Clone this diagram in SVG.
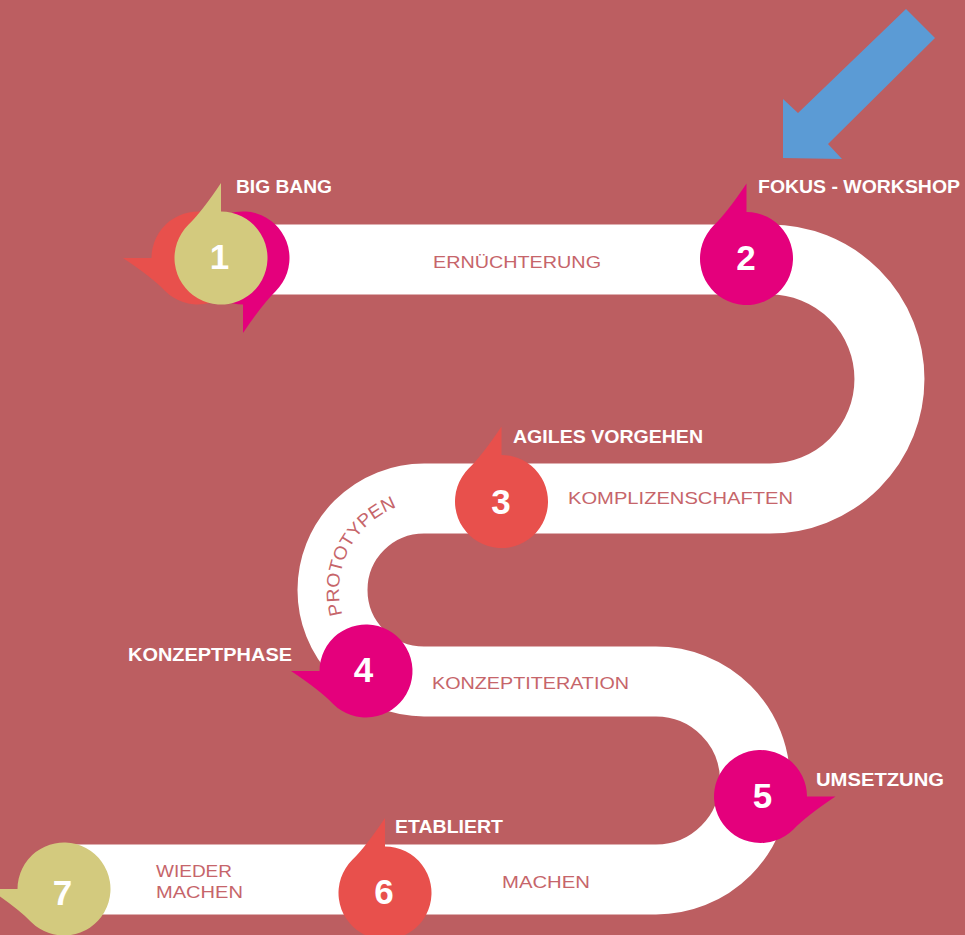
<svg xmlns="http://www.w3.org/2000/svg" width="965" height="935" viewBox="0 0 965 935">
<style>
.lbl{font-family:"Liberation Sans",Arial,sans-serif;font-weight:700;font-size:18px;fill:#ffffff}
.num{font-family:"Liberation Sans",Arial,sans-serif;font-weight:700;font-size:35px;fill:#ffffff;text-anchor:middle}
.plb{font-family:"Liberation Sans",Arial,sans-serif;font-weight:400;font-size:17px;fill:#C6656A}
.mag{fill:#E4007C}
.cor{fill:#E8504C}
.oli{fill:#D3CA7E}
</style>
<defs>
<path id="bub" d="M0,-75 L0,-46.5 A46.5,46.5 0 1 1 -32.88,-32.88 Q-19,-46.5 0,-75 Z"/>
<path id="protoArc" d="M342.5,614.5 A88,88 0 0 1 424,502"/>
</defs>
<rect x="0" y="0" width="965" height="935" fill="#BC5E61"/>
<g id="connectors">
<path d="M250,259.5 H770 A119.5,119.5 0 0 1 770,498.5 H424 A91.5,91.5 0 0 0 424,681.5 H656 A99,99 0 0 1 656,879.5 H60" fill="none" stroke="#ffffff" stroke-width="70"/>
<polygon points="906,9 935,38 828,144 842,159 783,158 783,99 798,113" fill="#5B9BD5"/>
</g>
<g id="path-labels">
<text class="plb" x="433" y="268" textLength="168" lengthAdjust="spacingAndGlyphs">ERNÜCHTERUNG</text>
<text class="plb" x="568" y="504" textLength="225" lengthAdjust="spacingAndGlyphs">KOMPLIZENSCHAFTEN</text>
<text class="plb" style="font-size:18px"><textPath href="#protoArc" textLength="132" lengthAdjust="spacingAndGlyphs">PROTOTYPEN</textPath></text>
<text class="plb" x="432" y="689" textLength="197" lengthAdjust="spacingAndGlyphs">KONZEPTITERATION</text>
<text class="plb" x="502" y="888" textLength="88" lengthAdjust="spacingAndGlyphs">MACHEN</text>
<text class="plb" x="156" y="877" textLength="76" lengthAdjust="spacingAndGlyphs">WIEDER</text>
<text class="plb" x="156" y="898" textLength="87" lengthAdjust="spacingAndGlyphs">MACHEN</text>
</g>
<g id="node1">
<use href="#bub" class="cor" transform="translate(198,258) rotate(-90)"/>
<use href="#bub" class="mag" transform="translate(243,258) rotate(180)"/>
<use href="#bub" class="oli" transform="translate(221,258)"/>
<text class="num" x="219.5" y="269">1</text>
<text class="lbl" x="236" y="193" textLength="96" lengthAdjust="spacingAndGlyphs">BIG BANG</text>
</g>
<g id="node2">
<use href="#bub" class="mag" transform="translate(746.5,258.5)"/>
<text class="num" x="746" y="270">2</text>
<text class="lbl" x="758" y="193" textLength="202" lengthAdjust="spacingAndGlyphs">FOKUS - WORKSHOP</text>
</g>
<g id="node3">
<use href="#bub" class="cor" transform="translate(501.5,501.5)"/>
<text class="num" x="501" y="514">3</text>
<text class="lbl" x="513" y="443" textLength="190" lengthAdjust="spacingAndGlyphs">AGILES VORGEHEN</text>
</g>
<g id="node4">
<use href="#bub" class="mag" transform="translate(366,671) rotate(-90)"/>
<text class="num" x="363.5" y="682">4</text>
<text class="lbl" x="128" y="661" textLength="164" lengthAdjust="spacingAndGlyphs">KONZEPTPHASE</text>
</g>
<g id="node5">
<use href="#bub" class="mag" transform="translate(760.5,796.5) rotate(90) scale(-1,1)"/>
<text class="num" x="762.5" y="808">5</text>
<text class="lbl" x="816" y="786" textLength="128" lengthAdjust="spacingAndGlyphs">UMSETZUNG</text>
</g>
<g id="node6">
<use href="#bub" class="cor" transform="translate(385,893)"/>
<text class="num" x="384" y="904">6</text>
<text class="lbl" x="395" y="833" textLength="108" lengthAdjust="spacingAndGlyphs">ETABLIERT</text>
</g>
<g id="node7">
<use href="#bub" class="oli" transform="translate(64,889) rotate(-90)"/>
<text class="num" x="62.5" y="905">7</text>
</g>
</svg>
